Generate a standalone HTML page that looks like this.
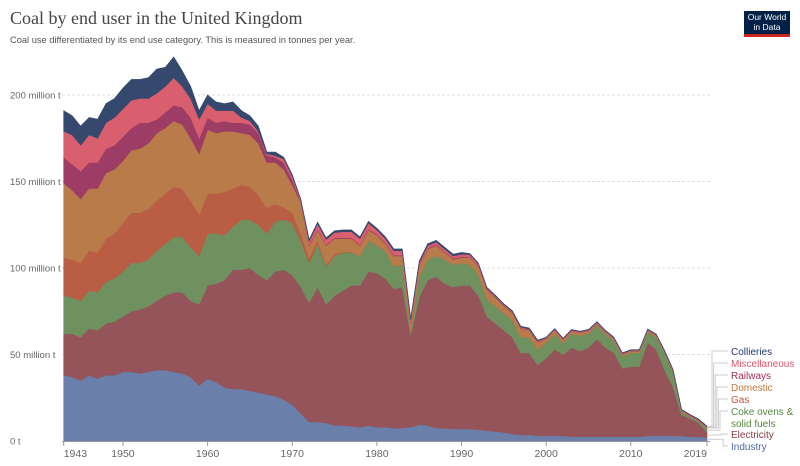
<!DOCTYPE html>
<html><head><meta charset="utf-8">
<style>
body{margin:0;background:#fff;width:800px;height:466px;overflow:hidden;font-family:"Liberation Sans",sans-serif;}
#title{position:absolute;left:10px;top:8px;font-family:"Liberation Serif",serif;font-size:18px;color:#444;}
#subtitle{position:absolute;left:10px;top:35px;font-size:9.3px;color:#555;}
#logo{position:absolute;left:744px;top:11px;width:46px;height:26px;background:#002147;color:#fff;font-size:8.5px;line-height:9.5px;text-align:center;padding-top:2px;box-sizing:border-box;border-bottom:3px solid #ce261e;}
svg{position:absolute;left:0;top:0;}
</style></head><body>
<div id="title">Coal by end user in the United Kingdom</div>
<div id="subtitle">Coal use differentiated by its end use category. This is measured in tonnes per year.</div>
<div id="logo">Our World<br>in Data</div>
<svg id="chart" width="800" height="466"></svg>
<script>
const startYear = 1943;
const endYear = 2019;
const industry = [38,37,35,38,36,38,38,40,40,39,40,41,41,40,39,37,32,36,34,31,30,30,29,28,27,26,24,21,16,
 11,11,10.5,9,9,8.5,8,9,8,8,7.5,7.5,8,9.5,9,7.5,7.5,7,7,7,6.5,6,5.5,5,4,3.5,3.5,3,
 3,3,3,2.5,2.5,2.5,2.5,2.5,2.5,2.5,2.5,2.5,3,3,3,3,3,2.5,2.5,2];
const electricity = [24,25,25,27,28,30,31,32,35,37,38,40,43,46,47,44,47,54,57,62,69,69,71,68,66,72,75,75,73,
 69,78,68.5,75,78,81.5,82,89,89,86,80.5,81.5,53,73.5,84,87.5,83.5,82,83,83,77.5,66,62.5,59,56,47.5,47.5,41,
 45,50,47,51.5,49.5,51.5,56.5,51.5,48.5,39.5,40.5,40.5,54,50,38,28,12,10.5,8,3];
const cokeOvens = [22,21,21,22,22,24,25,26,28,27,27,29,30,32,32,31,28,30,29,26,25,29,28,29,27,29,29,30,27,
 23,25,22,23,22,19,17,18,16,16,13,13,2,12,12,12,14,13,13,12,12,10,10,10,10,9,9,9,
 9,9,7,8,9,8,8,8,7,7,8,8,6,7,10,9,2,1,1,2.5];
const gas = [22,22,22,23,23,25,26,28,29,29,29,29,29,29,28,27,24,23,23,25,22,20,19,17,15,10,7,6,4,
 3,2,1,1,0.5,0.3,0,0,0,0,0,0,0,0,0,0,0,0,0,0,0,0,0,0,0,0,0,0,
 0,0,0,0,0,0,0,0,0,0,0,0,0,0,0,0,0,0,0,0];
const domestic = [43,40,37,36,37,38,37,36,36,37,38,39,38,38,37,36,35,37,35,35,33,30,30,30,26,24,22,16,18,
 7,6,11,9,7.5,7.7,6,6,6,4,6,5,5,6,6,6,4,3,3,4,5,5,5,4,4,5,4,4,
 2,2,1.5,1.5,1.5,1.5,1,1,1,1,1,1,1,1,0.5,0.5,0.5,0.5,0.5,0.3];
const railways = [15,15,16,15,15,14,14,14,13,15,12,8,9,9,10,12,9,7,6,6,5,6,6,6,4,3,4,3,0.5,
 0.5,0.5,0.5,0.5,0.5,0.5,0.5,0.5,0.5,0.5,0.5,0.5,0.5,0.5,0.5,0.5,0.5,0.5,0.5,0.3,0.3,0.3,0.3,0.3,0.3,0.3,0.3,0.3,
 0.2,0.2,0.2,0.2,0.2,0.2,0.2,0.2,0.2,0.2,0.2,0.2,0.2,0.2,0.2,0.2,0.2,0.2,0.2,0.2];
const miscellaneous = [15,17,15,16,14,15,16,16,16,14,14,15,15,16,12,11,11,8,7,6,7,3,2,1,1,1,2,2,1,
 2,3,3,3,3.5,3.5,3.5,3.5,2.5,2.5,2.5,2.5,1.5,1.5,1.5,1.5,1.5,1.5,1.5,1.5,1,1,0.5,0.5,0.5,0.5,0.5,0.5,
 0.5,0.5,0.5,0.5,0.5,0.5,0.5,0.5,0.5,0.5,0.3,0.3,0.3,0.3,0.3,0.3,0.3,0.3,0.3,0.3];
const collieries = [12,11,11,10,11,11,11,12,12,11,12,14,11,12,9,7,5,5,5,4,5,4,3,3,1,2,1,1,0.5,
 1,1,1,1,1,1,1,1,1,1,1,1,1,1,1,1,1,1,1,0.5,0.5,0.5,0.5,0.5,0.5,0.5,0.5,0.5,
 0.3,0.3,0.3,0.3,0.3,0.3,0.3,0.3,0.3,0.3,0.3,0.3,0.3,0.3,0.3,0.3,0.3,0.3,0.3,0.3];
const seriesNames = ["Industry","Electricity","Coke ovens & solid fuels","Gas","Domestic","Railways","Miscellaneous","Collieries"];
const yTicks = [0,50,100,150,200];
const yTickLabels = ["0 t","50 million t","100 million t","150 million t","200 million t"];
const xTicks = [1943,1950,1960,1970,1980,1990,2000,2010,2019];

const NS="http://www.w3.org/2000/svg";
const svg=document.getElementById('chart');
const X0=63.7, X1=707, Y0=441, YTOP=95;
const x=yr=>X0+(yr-startYear)*(X1-X0)/(endYear-startYear);
const y=v=>Y0-v*(Y0-YTOP)/200;
function mk(tag,attrs){const e=document.createElementNS(NS,tag);for(const k in attrs)e.setAttribute(k,attrs[k]);svg.appendChild(e);return e;}

yTicks.forEach((t,i)=>{
  if(t>0){const g=mk('line',{x1:62,x2:710,y1:y(t),y2:y(t),stroke:'#ddd','stroke-dasharray':'3,2'});
  
  }
  const tx=mk('text',{x:10,y:y(t)+3.5,'font-size':'9.5','fill':'#666'});
  tx.textContent=yTickLabels[i];
  
  
});

const series=[industry,electricity,cokeOvens,gas,domestic,railways,miscellaneous,collieries];
const colors=["#6a7fa9","#955459","#6f905f","#b95d45","#b97b4a","#9d3d66","#d95f6f","#35496e"];
const textColors=["#4c6aa6","#8f3b45","#58863f","#c6533a","#c3773d","#a22d5c","#e2566c","#213a66"];
const n=endYear-startYear+1;
let base=new Array(n).fill(0);
const tops=[];
series.forEach((s,k)=>{
  const top=base.map((b,i)=>b+s[i]);
  let d='M'+x(startYear)+','+y(top[0]);
  for(let i=1;i<n;i++)d+='L'+x(startYear+i)+','+y(top[i]);
  for(let i=n-1;i>=0;i--)d+='L'+x(startYear+i)+','+y(base[i]);
  const p=mk('path',{d:d+'Z',fill:colors[k],stroke:colors[k],'stroke-width':'0.6'});
  
  
  tops.push(top); base=top;
});

mk('line',{x1:62,x2:710,y1:Y0+0.5,y2:Y0+0.5,stroke:'#999'});
xTicks.forEach((t,i)=>{
  mk('line',{x1:x(t),x2:x(t),y1:Y0,y2:Y0+5,stroke:'#999'});
  const anchor=i===0?'start':(i===xTicks.length-1?'end':'middle');
  const tx=mk('text',{x:x(t),y:Y0+16,'font-size':'10.5',fill:'#666','text-anchor':anchor});
  tx.textContent=t;
  
  
});

// legend
const labelY=[450,438,415,403,391,379,367,355];
for(let k=0;k<8;k++){
  const ey=(y(tops[k][n-1])+y(k?tops[k-1][n-1]:0))/2;
  const ly=labelY[k]-4;
  const mx=712+(7-k)*1.6;
  mk('path',{d:`M${X1+1},${ey}H${mx}V${ly}H728`,fill:'none',stroke:'#ccc','stroke-width':'1'});
  const lines=seriesNames[k]==="Coke ovens & solid fuels"?["Coke ovens &","solid fuels"]:[seriesNames[k]];
  lines.forEach((ln,j)=>{
    const tx=mk('text',{x:731,y:labelY[k]+(lines.length>1?j*12:0),'font-size':'10','fill':textColors[k]});
    tx.textContent=ln;
    
    
  });
}
</script>
</body></html>
